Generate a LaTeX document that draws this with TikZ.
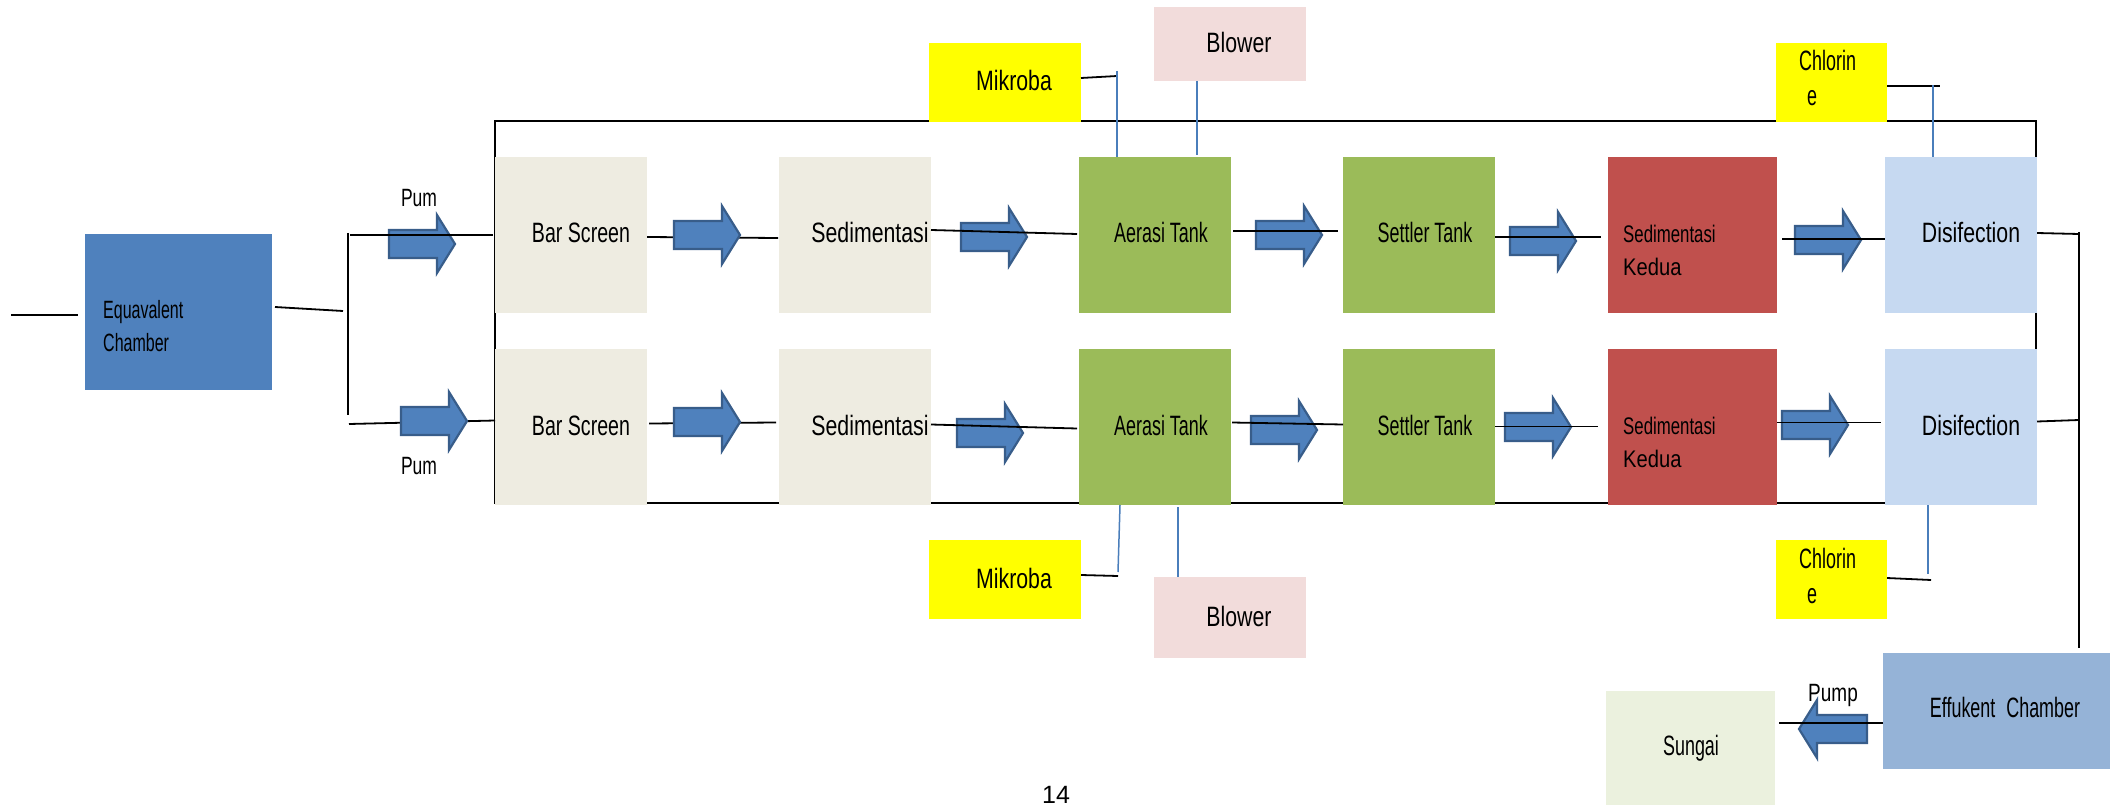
\documentclass[tikz,border=0pt]{standalone}
\usepackage{fontspec}
\setmainfont{Liberation Sans}
\newfontfamily\fa[FakeStretch=0.64]{Liberation Sans}
\newfontfamily\fb[FakeStretch=0.70]{Liberation Sans}
\newfontfamily\fc[FakeStretch=0.76]{Liberation Sans}
\newfontfamily\fd[FakeStretch=0.84]{Liberation Sans}
\usetikzlibrary{calc}
\definecolor{eqblue}{HTML}{4F81BD}
\definecolor{tanbox}{HTML}{EEECE1}
\definecolor{greenbox}{HTML}{9BBB59}
\definecolor{redbox}{HTML}{C0504D}
\definecolor{disblue}{HTML}{C6D9F1}
\definecolor{yelbox}{HTML}{FFFF00}
\definecolor{pinkbox}{HTML}{F2DCDB}
\definecolor{effblue}{HTML}{95B3D7}
\definecolor{sungbox}{HTML}{EBF1DE}
\definecolor{arrfill}{HTML}{4F81BD}
\definecolor{arrdraw}{HTML}{385D8A}
\definecolor{lineblue}{HTML}{4A7EBB}
\tikzset{
  box/.style={rectangle, inner sep=0pt, outer sep=0pt, anchor=north west},
  stdbox/.style={box, minimum width=152pt, minimum height=156pt},
  widebox/.style={box, minimum width=169pt, minimum height=156pt},
  txt/.style={inner sep=0pt, anchor=base, text=black},
  conn/.style={line width=1.8pt, black},
  bconn/.style={line width=1.5pt, lineblue},
  frameline/.style={line width=2.6pt, black},
  barrow/.style={fill=arrfill, draw=arrdraw, line width=2.2pt, line join=miter},
}
\newcommand\rarr[2]{\draw[barrow] (#1,#2-14) -- (#1+48,#2-14) -- (#1+48,#2-29) -- (#1+66,#2) -- (#1+48,#2+29) -- (#1+48,#2+14) -- (#1,#2+14) -- cycle;}
\newcommand\larr[2]{\draw[barrow] (#1,#2) -- (#1+18,#2-29) -- (#1+18,#2-14) -- (#1+68,#2-14) -- (#1+68,#2+14) -- (#1+18,#2+14) -- (#1+18,#2+29) -- cycle;}
\begin{document}
\begin{tikzpicture}[x=1pt,y=-1pt]
\useasboundingbox (0,0) rectangle (2120,805);
\fill[white] (0,0) rectangle (2120,805);
% frame
\draw[frameline] (495,121) rectangle (2036,503);
% boxes
\node[box, fill=eqblue, minimum width=187pt, minimum height=156pt] (eq) at (85,234) {};
\node[stdbox, fill=tanbox] (bs1) at (495,157) {};
\node[stdbox, fill=tanbox] (bs2) at (495,349) {};
\node[stdbox, fill=tanbox] (sd1) at (779,157) {};
\node[stdbox, fill=tanbox] (sd2) at (779,349) {};
\node[stdbox, fill=greenbox] (ae1) at (1079,157) {};
\node[stdbox, fill=greenbox] (ae2) at (1079,349) {};
\node[stdbox, fill=greenbox] (st1) at (1343,157) {};
\node[stdbox, fill=greenbox] (st2) at (1343,349) {};
\node[widebox, fill=redbox] (sk1) at (1608,157) {};
\node[widebox, fill=redbox] (sk2) at (1608,349) {};
\node[stdbox, fill=disblue] (ds1) at (1885,157) {};
\node[stdbox, fill=disblue] (ds2) at (1885,349) {};
\node[box, fill=yelbox, minimum width=152pt, minimum height=79pt] (mk1) at (929,43) {};
\node[box, fill=yelbox, minimum width=152pt, minimum height=79pt] (mk2) at (929,540) {};
\node[box, fill=pinkbox, minimum width=152pt, minimum height=74pt] (bl1) at (1154,7) {};
\node[box, fill=pinkbox, minimum width=152pt, minimum height=81pt] (bl2) at (1154,577) {};
\node[box, fill=yelbox, minimum width=111pt, minimum height=79pt] (ch1) at (1776,43) {};
\node[box, fill=yelbox, minimum width=111pt, minimum height=79pt] (ch2) at (1776,540) {};
\node[box, fill=effblue, minimum width=227pt, minimum height=116pt] (ef) at (1883,653) {};
\node[box, fill=sungbox, minimum width=169pt, minimum height=114pt] (sg) at (1606,691) {};
% free-end coordinates
\coordinate (src) at (11,315);
\coordinate (brT) at (348,233);
\coordinate (brB) at (348,415);
\coordinate (brM) at (343,311);
\coordinate (rvT) at (2079,232);
\coordinate (rv1) at (2079,234);
\coordinate (rv2) at (2079,420);
\coordinate (mkj1) at (1117,76);
\coordinate (mkj2) at (1118,576);
\coordinate (chj1) at (1940,86);
\coordinate (chj2) at (1931,580);
% connectors drawn beneath arrows
\draw[conn] ($(bs1.east)+(0,2)$) -- ($(sd1.west)+(-1,3)$);
\draw[conn] ($(bs2.east)+(2,-3.5)$) -- ($(sd2.west)+(-3,-4.5)$);
\draw[conn] (349,424) -- ($(bs2.west)+(0,-6.5)$);
% arrows
\rarr{389}{244}
\rarr{674}{235}
\rarr{961}{237}
\rarr{1256}{235}
\rarr{1510}{241}
\rarr{1795}{240}
\rarr{401}{421}
\rarr{674}{422}
\rarr{957}{433}
\rarr{1251}{430}
\rarr{1505}{427}
\rarr{1782}{425}
\larr{1799}{729}
% connectors drawn over arrows
\draw[conn] (src) -- ($(eq.west)+(-7,3)$);
\draw[conn] ($(eq.east)+(3,-5)$) -- (brM);
\draw[conn] (brT) -- (brB);
\draw[conn] (350,235) -- ($(bs1.west)+(-2,0)$);
\draw[conn] ($(sd1.east)+(0,-5)$) -- ($(ae1.west)+(-2,-1)$);
\draw[conn] ($(ae1.east)+(2,-4)$) -- ($(st1.west)+(-5,-4)$);
\draw[conn] ($(st1.east)+(0,2)$) -- ($(sk1.west)+(-7,2)$);
\draw[conn] ($(sk1.east)+(5,4)$) -- ($(ds1.west)+(0,4)$);
\draw[conn] ($(ds1.east)+(0,-2)$) -- (rv1);
\draw[conn] ($(sd2.east)+(0,-2.5)$) -- ($(ae2.west)+(-2,1.5)$);
\draw[conn] ($(ae2.east)+(1,-4.5)$) -- ($(st2.west)+(0,-2.5)$);
\draw[conn] ($(st2.east)+(0,-0.5)$) -- ($(sk2.west)+(-10,-0.5)$);
\draw[conn] ($(sk2.east)+(0,-4.5)$) -- ($(ds2.west)+(-4,-4.5)$);
\draw[conn] ($(ds2.east)+(0,-5.5)$) -- (rv2);
\draw[conn] (rvT) -- ($(ef.north east)+(-31,-5)$);
\draw[conn] ($(ef.west)+(0,12)$) -- ($(sg.east)+(4,-25)$);
% additive feeds
\draw[conn] ($(mk1.east)+(0,-4.5)$) -- (mkj1);
\draw[bconn] (1117,71) -- ($(ae1.north west)+(38,0)$);
\draw[bconn] ($(bl1.south west)+(43,0)$) -- ($(ae1.north west)+(118,-2)$);
\draw[conn] ($(mk2.east)+(0,-4.5)$) -- (mkj2);
\draw[bconn] (1118,572) -- ($(ae2.south west)+(41,0)$);
\draw[bconn] ($(ae2.south west)+(99,2)$) -- ($(bl2.north west)+(24,0)$);
\draw[conn] ($(ch1.east)+(0,3.5)$) -- (chj1);
\draw[bconn] (1933,85) -- ($(ds1.north west)+(48,0)$);
\draw[conn] ($(ch2.east)+(0,-1.5)$) -- (chj2);
\draw[bconn] ($(ds2.south west)+(43,0)$) -- (1928,574);
% texts
\node[txt, anchor=base west, font=\fa\fontsize{25}{33}\selectfont] (eqt) at (103,318) {\begin{tabular}[t]{@{}l@{}}Equavalent\\Chamber\end{tabular}};
\node[txt, font=\fb\fontsize{25}{30}\selectfont] (pumt1) at (419,207) {Pum};
\node[txt, font=\fb\fontsize{25}{30}\selectfont] (pumt2) at (419,474) {Pum};
\node[txt, font=\fb\fontsize{28}{33}\selectfont] (bs1t) at (581,243) {Bar Screen};
\node[txt, font=\fb\fontsize{28}{33}\selectfont] (bs2t) at (581,435) {Bar Screen};
\node[txt, font=\fc\fontsize{28}{33}\selectfont] (sd1t) at (870,243) {Sedimentasi};
\node[txt, font=\fc\fontsize{28}{33}\selectfont] (sd2t) at (870,435) {Sedimentasi};
\node[txt, font=\fa\fontsize{28}{33}\selectfont] (ae1t) at (1161,243) {Aerasi Tank};
\node[txt, font=\fa\fontsize{28}{33}\selectfont] (ae2t) at (1161,435) {Aerasi Tank};
\node[txt, font=\fa\fontsize{28}{33}\selectfont] (st1t) at (1425,243) {Settler Tank};
\node[txt, font=\fa\fontsize{28}{33}\selectfont] (st2t) at (1425,435) {Settler Tank};
\node[txt, anchor=base west, font=\fb\fontsize{24}{33}\selectfont] (sk1t) at (1623,242) {\begin{tabular}[t]{@{}l@{}}Sedimentasi\\{\fd Kedua}\end{tabular}};
\node[txt, anchor=base west, font=\fb\fontsize{24}{33}\selectfont] (sk2t) at (1623,434) {\begin{tabular}[t]{@{}l@{}}Sedimentasi\\{\fd Kedua}\end{tabular}};
\node[txt, font=\fc\fontsize{28}{33}\selectfont] (ds1t) at (1971,243) {Disifection};
\node[txt, font=\fc\fontsize{28}{33}\selectfont] (ds2t) at (1971,435) {Disifection};
\node[txt, font=\fc\fontsize{28}{33}\selectfont] (mk1t) at (1014,91) {Mikroba};
\node[txt, font=\fc\fontsize{28}{33}\selectfont] (mk2t) at (1014,588) {Mikroba};
\node[txt, font=\fc\fontsize{28}{33}\selectfont] (bl1t) at (1239,53) {Blower};
\node[txt, font=\fc\fontsize{28}{33}\selectfont] (bl2t) at (1239,626) {Blower};
\node[txt, anchor=base west, font=\fa\fontsize{28}{35}\selectfont] (ch1t) at (1799,71) {\begin{tabular}[t]{@{}l@{}}Chlorin\\\hspace*{8pt}e\end{tabular}};
\node[txt, anchor=base west, font=\fa\fontsize{28}{35}\selectfont] (ch2t) at (1799,568) {\begin{tabular}[t]{@{}l@{}}Chlorin\\\hspace*{8pt}e\end{tabular}};
\node[txt, font=\fa\fontsize{28}{33}\selectfont] (eft) at (2005,717) {Effukent\hspace{6pt} Chamber};
\node[txt, font=\fa\fontsize{28}{33}\selectfont] (sgt) at (1691,755) {Sungai};
\node[txt, font=\fc\fontsize{25}{30}\selectfont] (pumpt) at (1833,701) {Pump};
\node[txt, font=\fontsize{25}{30}\selectfont] (pgno) at (1056,803) {14};
\end{tikzpicture}
\end{document}
